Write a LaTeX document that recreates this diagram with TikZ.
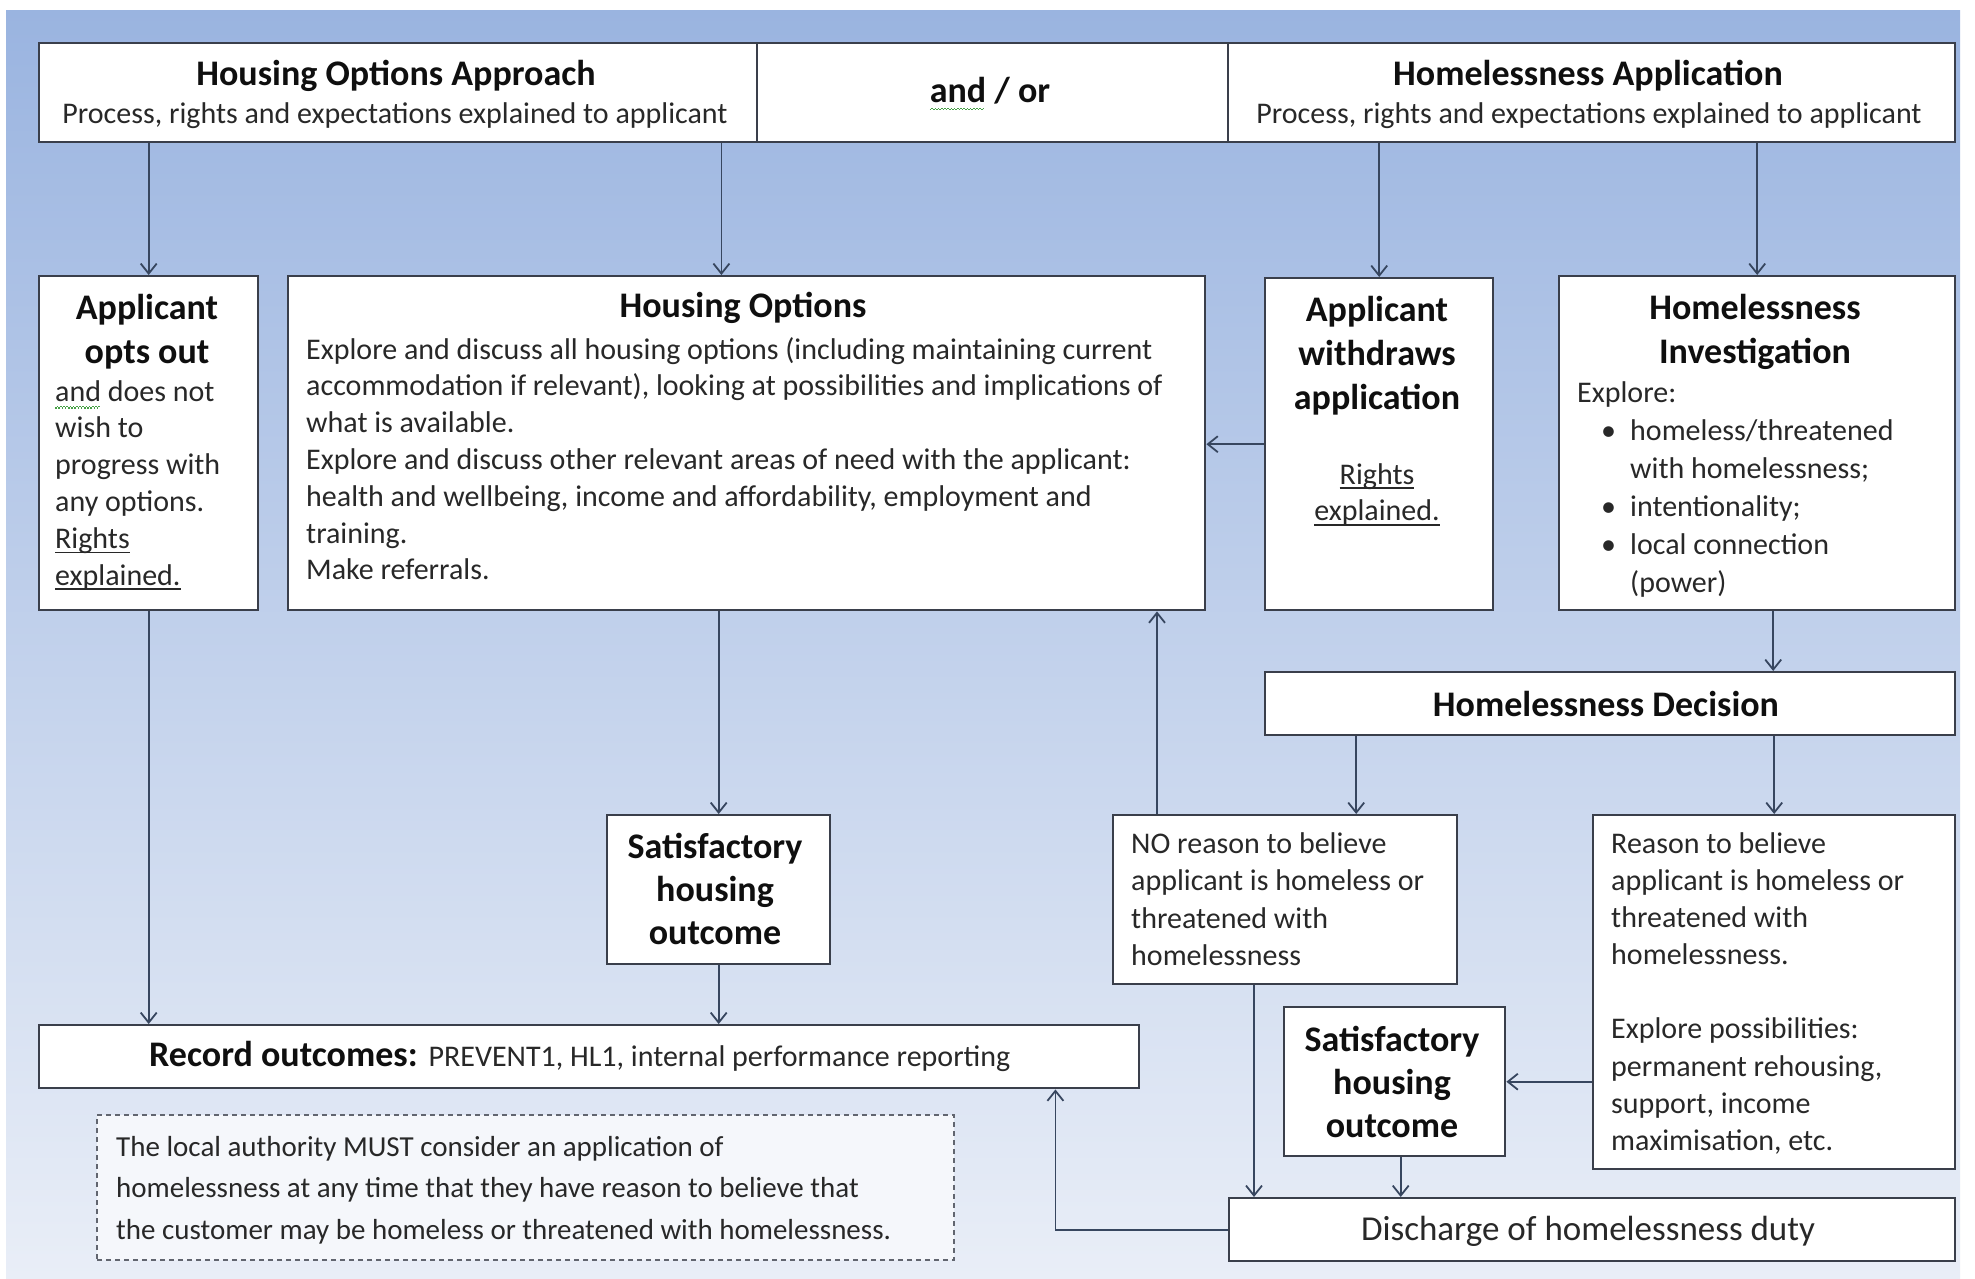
\documentclass[tikz,border=0pt]{standalone}
\usepackage{fontspec}
\setmainfont{Carlito}
\usetikzlibrary{arrows.meta}
\definecolor{bgtop}{RGB}{154,180,224}
\definecolor{bgbot}{RGB}{233,238,247}
\definecolor{edgec}{RGB}{58,63,75}
\definecolor{connc}{RGB}{55,70,95}
\definecolor{bodyc}{RGB}{40,40,40}
\definecolor{headc}{RGB}{15,15,15}
\definecolor{wavec}{RGB}{70,160,70}
\newcommand\gwave[1]{\setbox0\hbox{#1}\rlap{\hbox to \wd0{\color{wavec}\leaders\hbox{\rule[-7.5pt]{1.6pt}{1.1pt}\rule[-6.3pt]{1.6pt}{1.1pt}}\hfill}}\box0\relax}
\newcommand\myul[1]{\setbox0\hbox{#1}\rlap{\color{bodyc}\rule[-5pt]{\wd0}{1.6pt}}\box0\relax}
\begin{document}
\begin{tikzpicture}[x=1pt,y=-1pt,
  box/.style={draw=edgec, line width=2.4pt, fill=white, inner sep=0pt, anchor=north west},
  conn/.style={draw=connc, line width=1.8pt, -{Straight Barb[length=10pt,width=16pt]}},
  head/.style={inner sep=0pt, text=headc, font=\fontsize{36}{44}\selectfont\bfseries, align=center},
  sub/.style={inner sep=0pt, text=bodyc, font=\fontsize{30}{37}\selectfont},
  body/.style={inner sep=0pt, text=bodyc, font=\fontsize{30}{36.8}\selectfont, align=left, anchor=north west}]
\fill[white] (0,0) rectangle (1975,1278);
\useasboundingbox (0,0) rectangle (1975,1278);
\shade[top color=bgtop, bottom color=bgbot] (6,10) rectangle (1960,1278);

% boxes
\node[box, minimum width=718pt, minimum height=99pt] (hoa) at (38,42) {};
\node[box, minimum width=471pt, minimum height=99pt] (andor) at (756,42) {};
\node[box, minimum width=727pt, minimum height=99pt] (ha) at (1227,42) {};
\node[box, minimum width=219pt, minimum height=334pt] (optout) at (38,275) {};
\node[box, minimum width=917pt, minimum height=334pt] (hopt) at (287,275) {};
\node[box, minimum width=228pt, minimum height=332pt] (withd) at (1264,277) {};
\node[box, minimum width=396pt, minimum height=334pt] (invest) at (1558,275) {};
\node[box, minimum width=690pt, minimum height=63pt] (decision) at (1264,671) {};
\node[box, minimum width=344pt, minimum height=169pt] (noreason) at (1112,814) {};
\node[box, minimum width=362pt, minimum height=354pt] (reason) at (1592,814) {};
\node[box, minimum width=223pt, minimum height=149pt] (sat1) at (606,814) {};
\node[box, minimum width=221pt, minimum height=149pt] (sat2) at (1283,1006) {};
\node[box, minimum width=1100pt, minimum height=63pt] (record) at (38,1024) {};
\node[box, draw=edgec!80, line width=1.6pt, dashed, dash pattern=on 5pt off 4pt, fill=white!55!bgbot, minimum width=857pt, minimum height=145pt] (note) at (96,1114) {};
\node[box, minimum width=726pt, minimum height=63pt] (discharge) at (1228,1197) {};

% texts
\node[head, anchor=center] (hoaT) at (396,76) {Housing Options Approach};
\node[sub, anchor=center] (hoaS) at (395,116) {Process, rights and expectations explained to applicant};
\node[head, anchor=center] (andorT) at (990,94) {\gwave{and} / or};
\node[head, anchor=center] (haT) at (1588,76) {Homelessness Application};
\node[sub, anchor=center] (haS) at (1589,116) {Process, rights and expectations explained to applicant};

\node[head, anchor=north] (ooT) at (147,294) {Applicant\\opts out};
\node[body] (ooB) at (55,380) {\gwave{and} does not\\wish to\\progress with\\any options.\\\myul{Rights}\\\myul{explained.}};

\node[head, anchor=center] (hoT) at (743,308) {Housing Options};
\node[body] (hoB) at (306,337) {Explore and discuss all housing options (including maintaining current\\accommodation if relevant), looking at possibilities and implications of\\what is available.\\Explore and discuss other relevant areas of need with the applicant:\\health and wellbeing, income and affordability, employment and\\training.\\Make referrals.};

\node[head, anchor=north] (wdT) at (1377,296) {Applicant\\withdraws\\application};
\node[body, align=center, anchor=north] (wdR) at (1377,463) {\myul{Rights}\\\myul{explained.}};

\node[head, anchor=north] (ivT) at (1755,294) {Homelessness\\Investigation};
\node[body, font=\fontsize{30}{38}\selectfont] (ivB) at (1577,381) {Explore:\\\hspace*{24pt}\makebox[29pt][l]{\textbullet}homeless/threatened\\\hspace*{53pt}with homelessness;\\\hspace*{24pt}\makebox[29pt][l]{\textbullet}intentionality;\\\hspace*{24pt}\makebox[29pt][l]{\textbullet}local connection\\\hspace*{53pt}(power)};

\node[head, anchor=center] (decT) at (1606,704) {Homelessness Decision};
\node[body, font=\fontsize{30}{37.5}\selectfont] (nrT) at (1131,832) {NO reason to believe\\applicant is homeless or\\threatened with\\homelessness};
\node[body, font=\fontsize{30}{37.2}\selectfont] (rsT) at (1611,832) {Reason to believe\\applicant is homeless or\\threatened with\\homelessness.\\[37pt]Explore possibilities:\\permanent rehousing,\\support, income\\maximisation, etc.};

\node[head, font=\fontsize{36}{43}\selectfont\bfseries, anchor=north] (s1T) at (715,833) {Satisfactory\\housing\\outcome};
\node[head, font=\fontsize{36}{43}\selectfont\bfseries, anchor=north] (s2T) at (1392,1026) {Satisfactory\\housing\\outcome};

\node[inner sep=0pt, anchor=west, text=headc, font=\fontsize{36}{44}\selectfont] (recT) at (149,1056) {\textbf{Record outcomes:} {\color{bodyc}\fontsize{30}{36}\selectfont PREVENT1, HL1, internal performance reporting}};
\node[body, font=\fontsize{29}{41.5}\selectfont] (noteT) at (116,1136) {The local authority MUST consider an application of\\homelessness at any time that they have reason to believe that\\the customer may be homeless or threatened with homelessness.};
\node[inner sep=0pt, text=bodyc, font=\fontsize{35}{42}\selectfont] (disT) at (1588,1231) {Discharge of homelessness duty};

% connectors
\draw[conn] (hoa.south -| optout.north) -- (optout.north);
\draw[conn] ([xshift=-37pt]hoa.south east) coordinate (c1) -- (c1 |- hopt.north);
\draw[conn] (ha.south -| withd.north) -- (withd.north);
\draw[conn] (ha.south -| invest.north) -- (invest.north);
\draw[conn] (withd.west) -- (withd.west -| hopt.east);
\draw[conn] ([xshift=16pt]invest.south) coordinate (c2) -- (c2 |- decision.north);
\draw[conn] ([xshift=-254pt]decision.south) coordinate (c3) -- (c3 |- noreason.north);
\draw[conn] (decision.south -| reason.north) -- (reason.north);
\draw[conn] ([xshift=45pt]noreason.north west) coordinate (c4) -- (c4 |- hopt.south);
\draw[conn] ([xshift=142pt]noreason.south west) coordinate (c5) -- (c5 |- discharge.north);
\draw[conn] (sat2.east -| reason.west) -- (sat2.east);
\draw[conn] ([xshift=6pt]sat2.south) coordinate (c6) -- (c6 |- discharge.north);
\draw[conn] (discharge.west) -| ([xshift=-85pt]record.south east);
\draw[conn] (sat1.north |- hopt.south) -- (sat1.north);
\draw[conn] (sat1.south) -- (sat1.south |- record.north);
\draw[conn] (optout.south) -- (optout.south |- record.north);
\end{tikzpicture}
\end{document}
